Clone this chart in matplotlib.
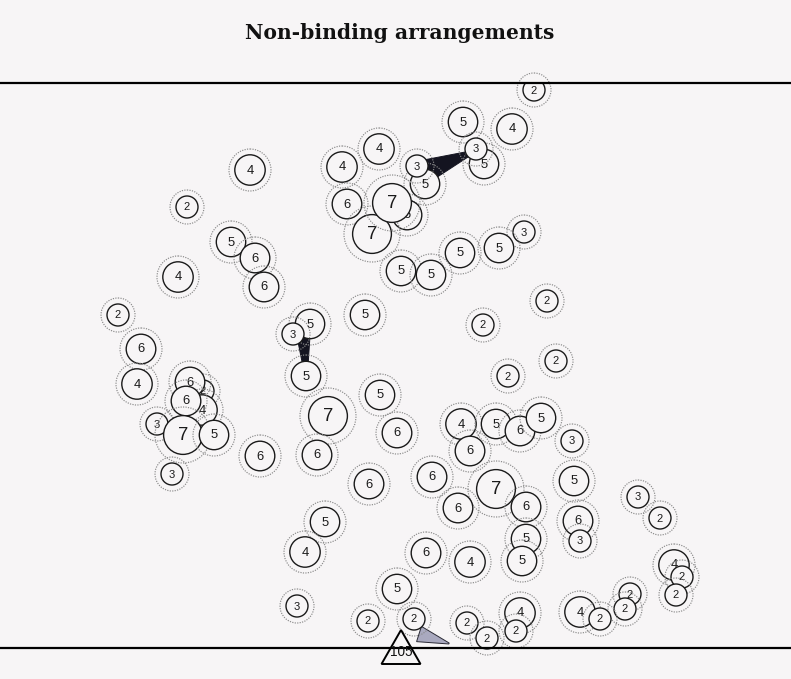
import matplotlib
matplotlib.use("Agg")
import matplotlib.pyplot as plt
from matplotlib.patches import Circle, Polygon
import numpy as np

# ---------------- data ----------------
title = "Non-binding arrangements"

# node centres (pixel space of the original layout) and their labels, in drawing order
node_x = [534, 463, 512, 484, 476, 379, 342, 425, 417, 250, 187, 347, 407, 372, 392,
          231, 255, 264, 178, 524, 499, 460, 401, 431, 547, 483, 118, 365, 310, 293,
          141, 556, 508, 306, 137,
          203, 190, 202, 186, 157, 183, 214, 260, 172,
          380, 328, 397, 317, 369, 325, 305, 426, 397, 297, 368, 414,
          461, 496, 520, 541, 470, 572, 432, 496, 526, 458, 574, 578, 580, 526, 522, 470,
          638, 660, 674, 682, 676, 630, 625, 580, 600, 520, 516, 467, 487]
node_y = [90, 122, 129, 164, 149, 149, 167, 184, 166, 170, 207, 204, 215, 234, 203,
          242, 258, 287, 277, 232, 248, 253, 271, 275, 301, 325, 315, 315, 324, 334,
          349, 361, 376, 376, 384,
          391, 382, 410, 401, 424, 435, 435, 456, 474,
          395, 416, 433, 455, 484, 522, 552, 553, 589, 606, 621, 619,
          424, 424, 431, 418, 451, 441, 477, 489, 507, 508, 481, 521, 541, 539, 561, 562,
          497, 518, 565, 577, 595, 594, 609, 612, 619, 613, 631, 623, 638]
node_label = [2, 5, 4, 5, 3, 4, 4, 5, 3, 4, 2, 6, 6, 7, 7,
              5, 6, 6, 4, 3, 5, 5, 5, 5, 2, 2, 2, 5, 5, 3,
              6, 2, 2, 5, 4,
              2, 6, 4, 6, 3, 7, 5, 6, 3,
              5, 7, 6, 6, 6, 5, 4, 6, 5, 3, 2, 2,
              4, 5, 6, 5, 6, 3, 6, 7, 6, 6, 5, 6, 3, 5, 5, 4,
              3, 2, 4, 2, 2, 2, 2, 4, 2, 4, 2, 2, 2]

# tapered links (start point, end point, width at start, width at end, kind)
link_x0 = [421, 303, 419]
link_y0 = [173, 329, 634]
link_x1 = [473, 306, 449]
link_y1 = [152, 374, 643.5]
link_w0 = [25, 15, 16]
link_w1 = [3, 3, 1]
link_kind = ["dark", "dark", "light"]

# anchor marker on the baseline
anchor_x = 401
anchor_y = 647
anchor_label = "105"

# horizontal rules
rule_y = [83, 648]

# ---------------- style ----------------
BG = "#f7f5f6"
W, H = 791, 679
inner_r = {2: 11, 3: 11, 4: 15.2, 5: 14.7, 6: 14.8, 7: 19.4}
outer_r = {2: 17, 3: 17, 4: 21, 5: 21, 6: 21, 7: 28}
font_sz = {2: 8, 3: 8, 4: 9.4, 5: 9.4, 6: 9.4, 7: 13.2}
link_fill = {"dark": "#141420", "light": "#a9a9bf"}
link_edge = {"dark": "#141420", "light": "#2a2a35"}

fig = plt.figure(figsize=(W / 100, H / 100), dpi=100, facecolor=BG)
ax = fig.add_axes([0, 0, 1, 1])
ax.set_xlim(0, W)
ax.set_ylim(H, 0)
ax.set_facecolor(BG)
ax.axis("off")

# title
ax.text(400, 33, title, ha="center", va="center", fontsize=14.6,
        color="#111", family="DejaVu Serif", weight="bold")

# links (under nodes)
for x0, y0, x1, y1, w0, w1, k in zip(link_x0, link_y0, link_x1, link_y1,
                                     link_w0, link_w1, link_kind):
    d = np.array([x1 - x0, y1 - y0], float)
    u = d / np.hypot(*d)
    p = np.array([-u[1], u[0]])
    a = np.array([x0, y0], float)
    b = np.array([x1, y1], float)
    pts = [a + p * w0 / 2, b + p * w1 / 2, b - p * w1 / 2, a - p * w0 / 2]
    ax.add_patch(Polygon(pts, closed=True, facecolor=link_fill[k],
                         edgecolor=link_edge[k], lw=0.7, zorder=1))

# nodes
clip_rect = plt.Rectangle((0, rule_y[0] + 1), W, rule_y[1] - rule_y[0] + 2,
                          transform=ax.transData, visible=False)
ax.add_patch(clip_rect)
z = 2
for x, y, lab in zip(node_x, node_y, node_label):
    ring = Circle((x, y), outer_r[lab], facecolor="none", edgecolor="#8a8a8a",
                  lw=0.85, linestyle=(0, (1, 1.1)), zorder=z)
    ax.add_patch(ring)
    c = Circle((x, y), inner_r[lab], facecolor=BG, edgecolor="#1a1a1a",
               lw=1.0, zorder=z + 0.1)
    ax.add_patch(c)
    c.set_clip_path(clip_rect)
    t = ax.text(x, y + 0.5, str(lab), ha="center", va="center", fontsize=font_sz[lab],
                family="Liberation Sans", color="#1a1a1a", zorder=z + 0.2)
    t.set_clip_path(clip_rect)
    z += 0.3

# rules
for ry in rule_y:
    ax.plot([0, W], [ry, ry], color="black", lw=1.6, solid_capstyle="butt", zorder=z + 1)

# anchor triangle
tw, th = 39, 34
tri = [(anchor_x, anchor_y - th / 2), (anchor_x - tw / 2, anchor_y + th / 2),
       (anchor_x + tw / 2, anchor_y + th / 2)]
ax.add_patch(Polygon(tri, closed=True, facecolor=BG, edgecolor="black",
                     lw=1.4, zorder=z + 0.5))
ax.text(anchor_x, anchor_y + 5, anchor_label, ha="center", va="center", fontsize=9.8,
        family="Liberation Sans", color="#111", zorder=z + 2)

fig.savefig("out.png", dpi=100, facecolor=BG)
